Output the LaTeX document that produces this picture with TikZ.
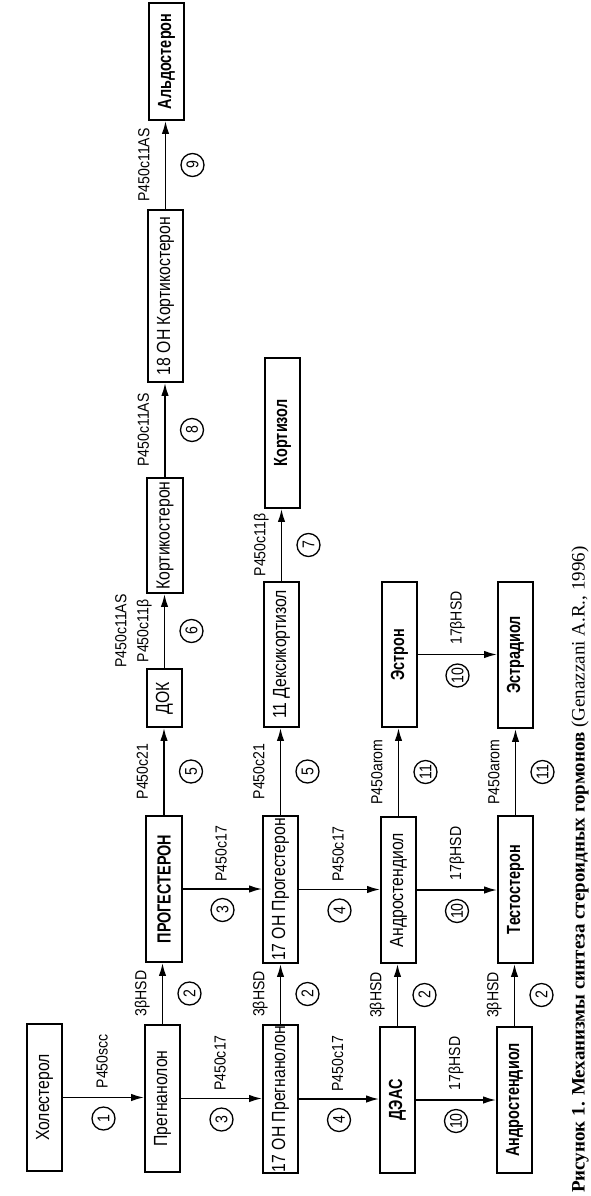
\documentclass[tikz,border=0pt]{standalone}
\usepackage{fontspec}
\setmainfont{Liberation Sans}
\newfontfamily\nar{Liberation Sans}[FakeStretch=0.83]
\newfontfamily\narl{Liberation Sans}[FakeStretch=0.88]
\newfontfamily\narb{Liberation Sans}[FakeStretch=0.76]
\newfontfamily\capf{Liberation Serif}
\usetikzlibrary{arrows.meta}
\newcommand{\rt}[1]{\rotatebox{90}{#1}}
\tikzset{
  box/.style={draw, line width=1.9pt, inner sep=0pt, font=\nar\fontsize{19}{19}\selectfont},
  bbox/.style={box, font=\narb\bfseries\fontsize{19}{19}\selectfont},
  arr/.style={-{Latex[length=13pt,width=7.5pt]}, line width=1.6pt},
  lab/.style={inner sep=0pt, font=\narl\fontsize{16}{16}\selectfont},
  num/.style={circle, draw, line width=1.3pt, minimum size=23pt, inner sep=0pt, font=\nar\fontsize{17}{17}\selectfont},
  hlab/.style={lab, anchor=north, yshift=64pt},
  hnum/.style={num, yshift=-21pt},
  vlab/.style={lab, anchor=east, xshift=-12pt},
  vnum/.style={num, xshift=27pt}
}
\newcommand\bx[7]{%
  \pgfmathsetmacro\bw{#4-#3}\pgfmathsetmacro\bh{#6-#5}%
  \node[#1, minimum width=\bw pt, minimum height=\bh pt] (#2) at ({(#3+#4)/2},{(#5+#6)/2}) {\rt{#7}};}
\newcommand\harr[4]{%
  \draw[arr] (#1.east) -- (#1.east -| #2.west)
    node[midway, hlab] {\rt{#3\vphantom{Hβ}}}
    node[midway, hnum] {\rt{#4}};}
\newcommand\varr[4]{%
  \draw[arr] (#1.north) -- (#1.north |- #2.south)
    node[midway, vlab] {\rt{#3\vphantom{Hβ}}}
    node[midway, vnum] {\rt{#4}};}
\begin{document}
\begin{tikzpicture}[x=1pt,y=-1pt]
\useasboundingbox (0,0) rectangle (591,1196);
% boxes
\bx{box}{hol}{27}{62}{1024}{1171}{Холестерол}
\bx{box}{preg}{145}{180}{1025}{1172}{Прегнанолон}
\bx{bbox}{prog}{146}{182}{816}{962}{ПРОГЕСТЕРОН}
\bx{box}{dok}{147}{182}{669}{727}{ДОК}
\bx{box}{kcs}{147}{183}{478}{593}{Кортикостерон}
\bx{box}{ohk}{148}{183}{210}{382}{18 ОН Кортикостерон}
\bx{bbox}{ald}{149}{184}{3}{120}{Альдостерон}
\bx{box}{ohpr}{263}{298}{1025}{1173}{17 ОН Прегнанолон}
\bx{box}{ohpg}{263}{298}{816}{963}{17 ОН Прогестерон}
\bx{box}{dex}{264}{299}{582}{727}{11 Дексикортизол}
\bx{bbox}{kol}{265}{300}{358}{508}{Кортизол}
\bx{bbox}{deas}{380}{415}{1027}{1173}{ДЭАС}
\bx{box}{adl}{381}{416}{817}{963}{Андростендиол}
\bx{bbox}{est}{382}{417}{582}{727}{Эстрон}
\bx{bbox}{adn}{497}{532}{1027}{1173}{Андростендиол}
\bx{bbox}{tes}{498}{533}{816}{963}{Тестостерон}
\bx{bbox}{esd}{498}{533}{582}{728}{Эстрадиол}
% horizontal arrows
\harr{hol}{preg}{P450scc}{1}
\harr{preg}{ohpr}{P450c17}{3}
\harr{prog}{ohpg}{P450c17}{3}
\harr{ohpr}{deas}{P450c17}{4}
\harr{ohpg}{adl}{P450c17}{4}
\harr{deas}{adn}{17βHSD}{10}
\harr{adl}{tes}{17βHSD}{10}
\harr{est}{esd}{17βHSD}{10}
% vertical arrows
\varr{preg}{prog}{3βHSD}{2}
\varr{prog}{dok}{P450c21}{5}
\draw[arr] (dok.north) -- (dok.north |- kcs.south)
  node[midway, vlab] {\rt{P450c11β\vphantom{Hβ}}}
  node[midway, vlab, xshift=-22pt] {\rt{P450c11AS\vphantom{Hβ}}}
  node[midway, vnum] {\rt{6}};
\varr{kcs}{ohk}{P450c11AS}{8}
\varr{ohk}{ald}{P450c11AS}{9}
\varr{ohpr}{ohpg}{3βHSD}{2}
\varr{ohpg}{dex}{P450c21}{5}
\varr{dex}{kol}{P450c11β}{7}
\varr{deas}{adl}{3βHSD}{2}
\varr{adl}{est}{P450arom}{11}
\varr{adn}{tes}{3βHSD}{2}
\varr{tes}{esd}{P450arom}{11}
% caption
\node[anchor=south, inner sep=0pt] (cap) at (580,1193) {\rt{\capf\fontsize{19}{19}\selectfont\bfseries Рисунок 1. Механизмы синтеза стероидных гормонов \mdseries(Genazzani A.R., 1996)}};
\end{tikzpicture}
\end{document}
